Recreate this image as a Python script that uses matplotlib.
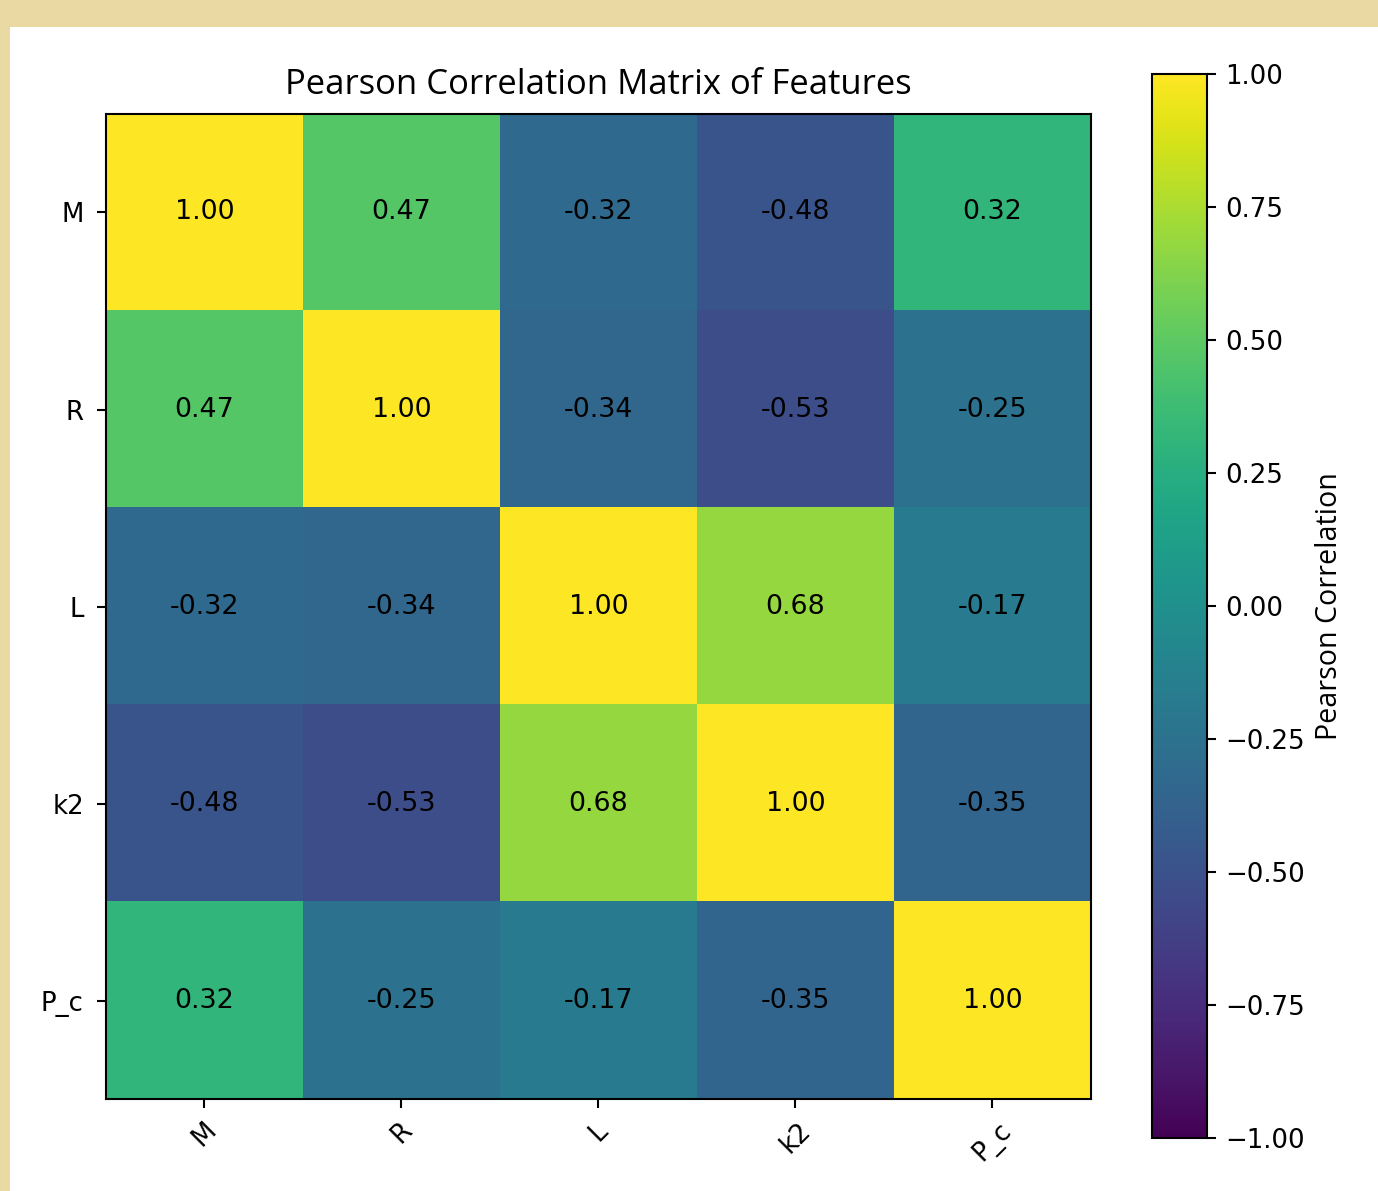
import numpy as np
import matplotlib
matplotlib.use("Agg")
import matplotlib.pyplot as plt
from matplotlib.patches import Rectangle

features = ["M", "R", "L", "k2", "P_c"]
corr = np.array([
    [1.00, 0.47, -0.32, -0.48, 0.32],
    [0.47, 1.00, -0.34, -0.53, -0.25],
    [-0.32, -0.34, 1.00, 0.68, -0.17],
    [-0.48, -0.53, 0.68, 1.00, -0.35],
    [0.32, -0.25, -0.17, -0.35, 1.00],
])

DPI = 187.5
fig = plt.figure(figsize=(1378 / DPI, 1191 / DPI), dpi=DPI, facecolor="#EAD9A2")
# white page inside the tan frame
fig.patches.append(Rectangle((10 / 1378, 0), 1 - 10 / 1378, 1 - 27 / 1191,
                             transform=fig.transFigure, facecolor="white",
                             edgecolor="none", zorder=-10))

ax = fig.add_axes([0.0769, 0.0772, 0.7148, 0.8271])
cax = fig.add_axes([0.836, 0.0445, 0.0399, 0.8934])

im = ax.imshow(corr, cmap="viridis", vmin=-1, vmax=1, aspect="auto")
for i in range(len(features)):
    for j in range(len(features)):
        ax.text(j, i, f"{corr[i, j]:.2f}", ha="center", va="center",
                color="black", fontsize=10.3)

ax.set_xticks(range(len(features)))
ax.set_yticks(range(len(features)))
ax.set_xticklabels(features, rotation=45)
ax.set_yticklabels(features)
ax.tick_params(axis="y", pad=5)
ax.set_title("Pearson Correlation Matrix of Features", fontsize=13.3,
             family="Open Sans", pad=7.5)

cbar = fig.colorbar(im, cax=cax)
cbar.set_label("Pearson Correlation", family="Open Sans", fontsize=11)

fig.savefig("out.png", dpi=DPI, facecolor=fig.get_facecolor())
